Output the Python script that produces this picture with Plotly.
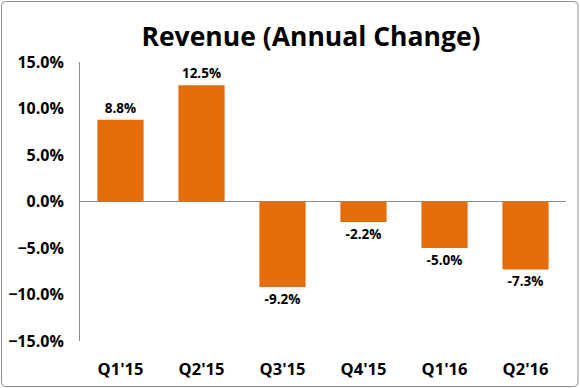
import plotly.graph_objects as go

categories = ["Q1'15", "Q2'15", "Q3'15", "Q4'15", "Q1'16", "Q2'16"]
revenue_change = [0.088, 0.125, -0.092, -0.022, -0.050, -0.073]

FONT = "Open Sans"
fig = go.Figure(go.Bar(
    x=categories, y=revenue_change,
    marker=dict(color="#E46C0A", line=dict(width=0)),
    texttemplate="%{y:.1%}", textposition="outside",
    textfont=dict(family=FONT, size=13.5, color="#000000", weight="bold"),
    cliponaxis=False,
))

fig.update_layout(
    width=580, height=388,
    margin=dict(l=80, r=14, t=62, b=47, autoexpand=False),
    paper_bgcolor="white", plot_bgcolor="white",
    bargap=0.43,
    showlegend=False,
    title=dict(text="<b>Revenue (Annual Change)</b>", x=311/580, xref="container", xanchor="center",
               y=1 - 37/388, yref="container", yanchor="middle",
               font=dict(family=FONT, size=26.5, color="#000000")),
    font=dict(family=FONT, color="#000000"),
)
fig.update_yaxes(
    range=[-0.15, 0.15], dtick=0.05, tick0=0, tickformat=".1%",
    showgrid=False, zeroline=True, zerolinecolor="#8C8C8C", zerolinewidth=1,
    showline=True, linecolor="#8C8C8C", linewidth=1,
    ticks="", ticklabelstandoff=12, automargin=False,
    tickfont=dict(family=FONT, size=16, color="#000000", weight="bold"),
)
fig.update_xaxes(
    showgrid=False, showline=False, ticks="", ticklabelstandoff=16, automargin=False,
    tickfont=dict(family=FONT, size=16.5, color="#000000", weight="bold"),
)
# rounded chart border (paper coords relative to plot area)
W, H = 486, 279
def px(x):
    return (x - 80) / W
def py(y):
    return (341 - y) / H
L, R, T, B, rr = 1.5, 578, 1.5, 386.5, 4
path = (f"M {px(L+rr)} {py(T)} L {px(R-rr)} {py(T)} Q {px(R)} {py(T)} {px(R)} {py(T+rr)} "
        f"L {px(R)} {py(B-rr)} Q {px(R)} {py(B)} {px(R-rr)} {py(B)} "
        f"L {px(L+rr)} {py(B)} Q {px(L)} {py(B)} {px(L)} {py(B-rr)} "
        f"L {px(L)} {py(T+rr)} Q {px(L)} {py(T)} {px(L+rr)} {py(T)} Z")
fig.add_shape(type="path", xref="paper", yref="paper", path=path,
              line=dict(color="#8C8C8C", width=1), fillcolor="rgba(0,0,0,0)", layer="below")

fig.write_html("out.html", config={"displayModeBar": False},
               post_script="document.body.style.margin='0';")
